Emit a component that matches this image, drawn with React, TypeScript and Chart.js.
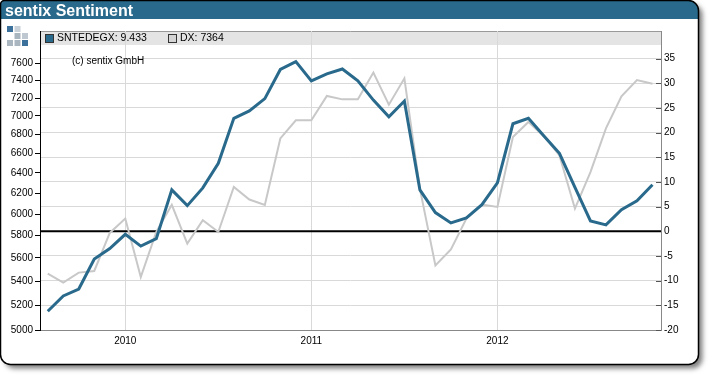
import { useEffect, useRef } from "react";
import { Chart, registerables } from "chart.js";

Chart.register(...registerables);

const months = [
  "Aug 2009", "Sep 2009", "Oct 2009", "Nov 2009", "Dec 2009",
  "Jan 2010", "Feb 2010", "Mar 2010", "Apr 2010", "May 2010", "Jun 2010", "Jul 2010", "Aug 2010", "Sep 2010", "Oct 2010", "Nov 2010", "Dec 2010",
  "Jan 2011", "Feb 2011", "Mar 2011", "Apr 2011", "May 2011", "Jun 2011", "Jul 2011", "Aug 2011", "Sep 2011", "Oct 2011", "Nov 2011", "Dec 2011",
  "Jan 2012", "Feb 2012", "Mar 2012", "Apr 2012", "May 2012", "Jun 2012", "Jul 2012", "Aug 2012", "Sep 2012", "Oct 2012", "Nov 2012",
];

const sntedegx = [
  -16.2, -13.1, -11.7, -5.6, -3.5,
  -0.6, -3.0, -1.5, 8.4, 5.2, 8.8, 13.8, 22.9, 24.4, 26.9, 32.8, 34.4,
  30.5, 31.9, 32.9, 30.5, 26.6, 23.2, 26.4, 8.4, 3.8, 1.7, 2.7, 5.4,
  9.8, 21.8, 22.9, 19.3, 15.8, 8.9, 2.1, 1.3, 4.4, 6.2, 9.433,
];

const dx = [
  5464, 5387, 5472, 5486, 5824,
  5957, 5434, 5833, 6087, 5728, 5941, 5833, 6260, 6138, 6087, 6757, 6952,
  6952, 7223, 7185, 7185, 7494, 7125, 7426, 6244, 5535, 5676, 5957, 6090,
  6067, 6773, 6934, 6781, 6579, 6052, 6409, 6864, 7219, 7407, 7364,
];

const leftTicks = [5000, 5200, 5400, 5600, 5800, 6000, 6200, 6400, 6600, 6800, 7000, 7200, 7400, 7600];
const rightTicks = [-20, -15, -10, -5, 0, 5, 10, 15, 20, 25, 30, 35];
const yearLabels = ["2010", "2011", "2012"];

const BLUE = "#296a8c";
const GRAY_LINE = "#c8c8c8";
const GRID = "#d9d9d9";
const FONT = "'Liberation Sans', Arial, sans-serif";

const yearIdx = yearLabels.map((y) => months.indexOf("Jan " + y));

const framePlugin = {
  id: "frame",
  beforeDraw(chart: any) {
    const ctx = chart.ctx as CanvasRenderingContext2D;
    const { left, right, top } = chart.chartArea;
    const fx = 0.5, fy = 0.5, fw = 698, fh = 364;
    const radii = [4, 10, 10, 10];
    ctx.save();
    ctx.shadowColor = "rgba(0,0,0,0.5)";
    ctx.shadowBlur = 5;
    ctx.shadowOffsetX = 4;
    ctx.shadowOffsetY = 4;
    ctx.beginPath();
    (ctx as any).roundRect(fx, fy, fw, fh, radii);
    ctx.fillStyle = "#fff";
    ctx.fill();
    ctx.restore();

    ctx.save();
    ctx.beginPath();
    (ctx as any).roundRect(fx, fy, fw, fh, radii);
    ctx.clip();
    ctx.fillStyle = BLUE;
    ctx.fillRect(0, 0, 710, 19);
    ctx.restore();

    ctx.save();
    ctx.beginPath();
    (ctx as any).roundRect(fx, fy, fw, fh, radii);
    ctx.lineWidth = 1.5;
    ctx.strokeStyle = "#000";
    ctx.stroke();
    ctx.restore();

    // title
    ctx.save();
    ctx.fillStyle = "#fff";
    ctx.font = "bold 16px " + FONT;
    ctx.textBaseline = "alphabetic";
    ctx.fillText("sentix Sentiment", 5, 16);
    ctx.restore();

    // icon
    const cells: [number, number, string][] = [
      [0, 0, "#3a7099"], [1, 0, "#c9d1d9"],
      [1, 1, "#a9b5bf"], [2, 1, "#bfc8d0"],
      [0, 2, "#a9b5bf"], [1, 2, "#a9b5bf"], [2, 2, "#3a7099"],
    ];
    ctx.save();
    for (const [c, r, col] of cells) {
      ctx.fillStyle = col;
      ctx.fillRect(7 + c * 7.5, 26 + r * 7, 6, 6);
    }
    ctx.restore();

    // legend band
    ctx.save();
    ctx.fillStyle = "#e4e4e4";
    ctx.fillRect(left, top, right - left, 14);
    ctx.strokeStyle = "#999";
    ctx.lineWidth = 1;
    ctx.beginPath();
    ctx.moveTo(left, top + 0.5);
    ctx.lineTo(right, top + 0.5);
    ctx.stroke();
    ctx.restore();
  },
  beforeDatasetsDraw(chart: any) {
    const ctx = chart.ctx as CanvasRenderingContext2D;
    const { left, right } = chart.chartArea;
    const y2 = chart.scales.y2;
    ctx.save();
    ctx.strokeStyle = "#555";
    ctx.lineWidth = 1;
    for (const v of rightTicks) {
      const py = Math.round(y2.getPixelForValue(v)) + 0.5;
      ctx.beginPath();
      ctx.moveTo(right - 5, py);
      ctx.lineTo(right, py);
      ctx.stroke();
    }
    const zy = y2.getPixelForValue(0);
    ctx.strokeStyle = "#000";
    ctx.lineWidth = 2;
    ctx.beginPath();
    ctx.moveTo(left, zy);
    ctx.lineTo(right, zy);
    ctx.stroke();
    ctx.restore();
  },
  afterDraw(chart: any) {
    const ctx = chart.ctx as CanvasRenderingContext2D;
    ctx.save();
    ctx.lineWidth = 1;
    ctx.strokeStyle = "#333";
    ctx.fillStyle = BLUE;
    ctx.fillRect(45.5, 34.5, 8, 8);
    ctx.strokeRect(45.5, 34.5, 8, 8);
    ctx.fillStyle = "#d4d4d4";
    ctx.fillRect(168.5, 34.5, 8, 8);
    ctx.strokeRect(168.5, 34.5, 8, 8);
    ctx.fillStyle = "#000";
    ctx.font = "10.5px " + FONT;
    ctx.textBaseline = "middle";
    ctx.fillText("SNTEDEGX: " + sntedegx[sntedegx.length - 1].toFixed(3), 57, 38.5);
    ctx.fillText("DX: " + dx[dx.length - 1], 180, 38.5);
    ctx.font = "10px " + FONT;
    ctx.fillText("(c) sentix GmbH", 72, 61);
    ctx.restore();
  },
};

export default function App() {
  const ref = useRef<HTMLCanvasElement>(null);
  useEffect(() => {
    const canvas = ref.current!;
    const chart = new Chart(canvas, {
      type: "line",
      data: {
        labels: months,
        datasets: [
          {
            label: "SNTEDEGX",
            data: sntedegx.map((v, i) => ({ x: i, y: v })),
            yAxisID: "y2",
            borderColor: BLUE,
            borderWidth: 3,
            pointRadius: 0,
            tension: 0,
            fill: false,
          },
          {
            label: "DX",
            data: dx.map((v, i) => ({ x: i, y: v })),
            yAxisID: "y1",
            borderColor: GRAY_LINE,
            borderWidth: 2,
            pointRadius: 0,
            tension: 0,
            fill: false,
          },
        ],
      },
      options: {
        animation: false,
        responsive: false,
        devicePixelRatio: 1,
        layout: { padding: { top: 31, left: 0, right: 0, bottom: 0 } },
        plugins: { legend: { display: false }, tooltip: { enabled: false }, title: { display: false } },
        font: { family: FONT },
        scales: {
          x: {
            type: "linear",
            min: -0.5,
            max: 39.55,
            afterBuildTicks: (s: any) => {
              s.ticks = yearIdx.map((v) => ({ value: v }));
            },
            ticks: {
              autoSkip: false,
              maxRotation: 0,
              color: "#000",
              font: { size: 10, family: FONT },
              padding: 5,
              callback: (v: any) => months[v as number]?.slice(-4) ?? "",
            },
            grid: { color: GRID, drawTicks: false },
            border: { color: "#888", width: 1 },
            afterFit: (s: any) => {
              s.height = 46;
            },
          },
          y1: {
            type: "logarithmic",
            position: "left",
            min: 5000,
            max: 8000,
            afterBuildTicks: (s: any) => {
              s.ticks = leftTicks.map((v) => ({ value: v }));
            },
            ticks: {
              autoSkip: false,
              color: "#000",
              font: { size: 10, family: FONT },
              padding: 2,
              callback: (v: any) => String(v),
            },
            grid: { drawOnChartArea: false, drawTicks: true, tickLength: 5, color: "#000" },
            border: { color: "#000", width: 1 },
            afterFit: (s: any) => {
              s.width = 40;
            },
          },
          y2: {
            type: "linear",
            position: "right",
            min: -20,
            max: 40.6,
            afterBuildTicks: (s: any) => {
              s.ticks = rightTicks.map((v) => ({ value: v }));
            },
            ticks: {
              autoSkip: false,
              color: "#000",
              font: { size: 10, family: FONT },
              padding: 3,
              callback: (v: any) => String(v),
            },
            grid: { color: GRID, drawTicks: false },
            border: { color: "#888", width: 1 },
            afterFit: (s: any) => {
              s.width = 49;
            },
          },
        },
      } as any,
      plugins: [framePlugin],
    });
    return () => chart.destroy();
  }, []);
  return (
    <div style={{ position: "absolute", left: 0, top: 0, width: 710, height: 376, background: "#fff" }}>
      <canvas ref={ref} width={710} height={376} style={{ display: "block", width: 710, height: 376 }} />
    </div>
  );
}
